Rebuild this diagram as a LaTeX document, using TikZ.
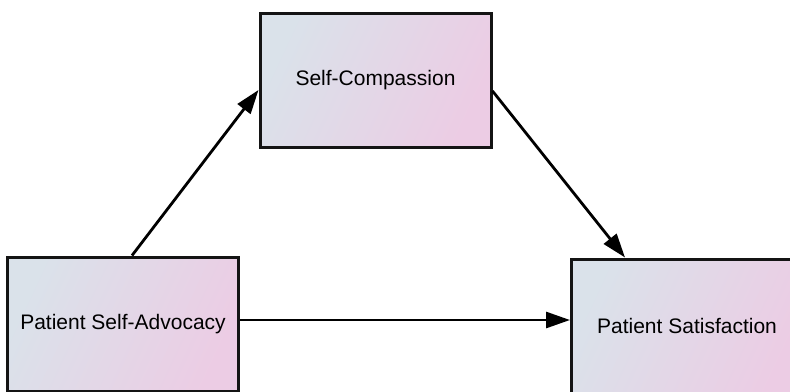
\documentclass[tikz,border=0pt]{standalone}
\usepackage{fontspec}
\setmainfont{Liberation Sans}
\usepackage{xcolor}
\usepackage{tikz}
\usetikzlibrary{positioning,arrows.meta}
\definecolor{boxblue}{RGB}{218,226,234}
\definecolor{boxpink}{RGB}{236,204,228}
\definecolor{boxline}{RGB}{20,20,20}

\begin{document}
\begin{tikzpicture}[
  x=0.5pt, y=-0.5pt,
  var/.style={draw=boxline, line width=1.5pt, minimum width=115.5pt,
              minimum height=67pt, align=center,
              font=\fontsize{10.5}{12.5}\selectfont,
              shading=axis, left color=boxblue, right color=boxpink,
              shading angle=65},
  arr/.style={-{Triangle[length=12pt, width=8pt]}, line width=1.4pt}
]
\useasboundingbox (0,0) rectangle (790,391);

\node[var] (comp)  at (375.5,80) {Self-Compassion};
\node[var] (advo)  at (123,324)  {Patient Self-Advocacy};
\node[var] (satis) at (687,326)  {Patient Satisfaction};

\draw[arr] ([xshift=4.5pt]advo.north) -- ([yshift=-5pt]comp.west);
\draw[arr] ([yshift=-5.5pt]comp.east) -- ([xshift=-31pt]satis.north);
\draw[arr] ([yshift=2pt]advo.east) -- ([yshift=3pt]satis.west);

\end{tikzpicture}
\end{document}
